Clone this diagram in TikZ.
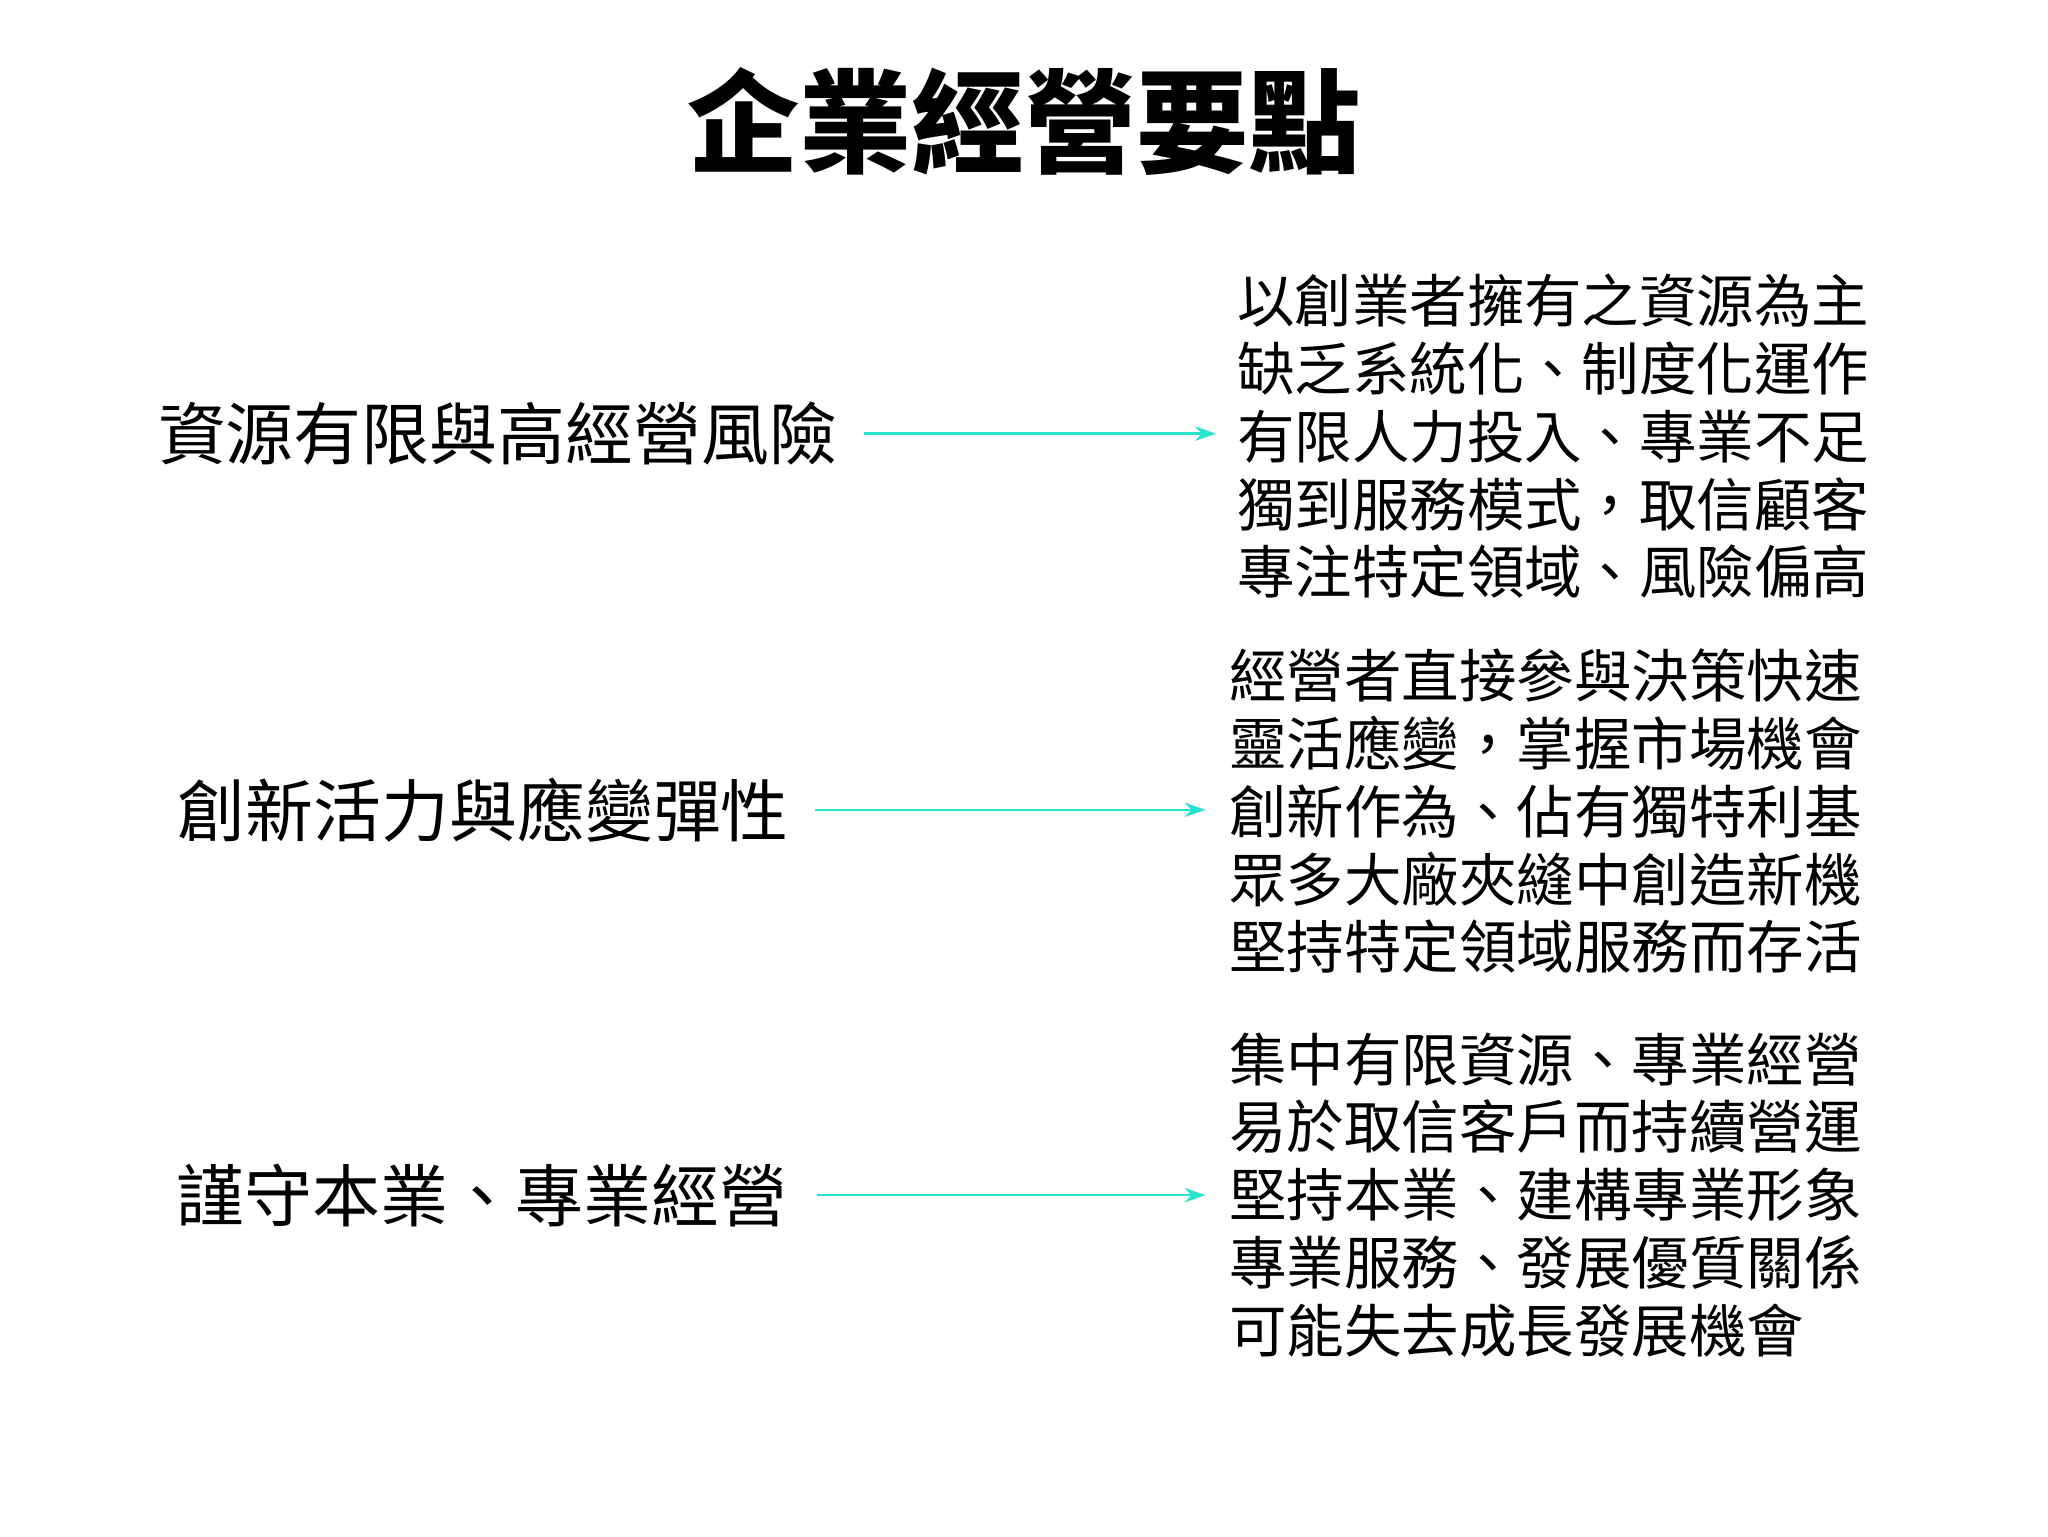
\documentclass[tikz,border=0pt]{standalone}
\usepackage{fontspec}
\newfontfamily\cjk{Noto Sans CJK TC}
\usetikzlibrary{arrows.meta}
\definecolor{arrc}{RGB}{40,228,205}
\begin{document}
\begin{tikzpicture}[x=1pt,y=-1pt,
  lbl/.style={font=\cjk\fontsize{52}{56}\selectfont,inner sep=0pt},
  blk/.style={font=\cjk\fontsize{44}{52}\selectfont,align=left,inner sep=0pt,anchor=west},
  arr/.style={draw=arrc,line width=2pt,-{Stealth[length=16pt,width=11pt]}}]
\fill[white] (0,0) rectangle (1568,1176);
\useasboundingbox (0,0) rectangle (1568,1176);
\node[font=\cjk\bfseries\fontsize{86}{90}\selectfont,inner sep=0pt] (t) at (784,93) {企業經營要點};
\node[lbl] (l1) at (381,332) {資源有限與高經營風險};
\node[lbl] (l2) at (370,620) {創新活力與應變彈性};
\node[lbl] (l3) at (369,915) {謹守本業、專業經營};
\node[blk] (r1) at (947,334) {以創業者擁有之資源為主\\缺乏系統化、制度化運作\\有限人力投入、專業不足\\獨到服務模式，取信顧客\\專注特定領域、風險偏高};
\node[blk] (r2) at (941,621) {經營者直接參與決策快速\\靈活應變，掌握市場機會\\創新作為、佔有獨特利基\\眾多大廠夾縫中創造新機\\堅持特定領域服務而存活};
\node[blk] (r3) at (941,915) {集中有限資源、專業經營\\易於取信客戶而持續營運\\堅持本業、建構專業形象\\專業服務、發展優質關係\\可能失去成長發展機會};
\draw[arr] ([xshift=20pt]l1.east) -- ([xshift=-16pt]r1.west |- l1.east);
\draw[arr] ([xshift=20pt]l2.east) -- ([xshift=-18pt]r2.west |- l2.east);
\draw[arr] ([xshift=22pt]l3.east) -- ([xshift=-18pt]r3.west |- l3.east);
\end{tikzpicture}
\end{document}
